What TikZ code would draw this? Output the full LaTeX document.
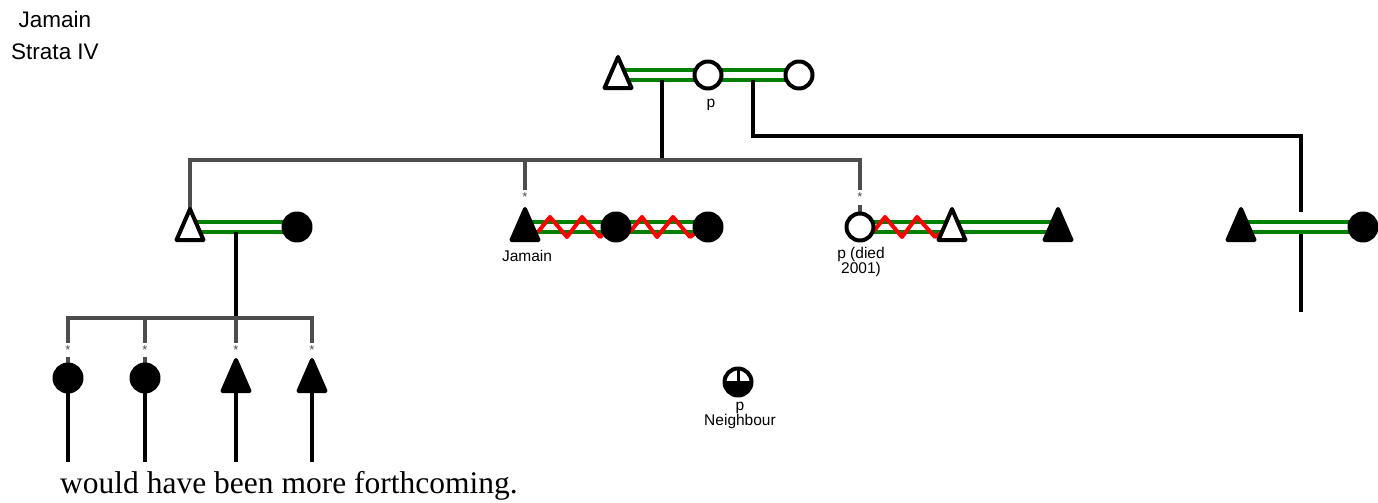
\documentclass[tikz,border=0pt]{standalone}
\usepackage{fontspec}
\setmainfont{Liberation Sans}
\newfontfamily\serifft{Liberation Serif}
\definecolor{grn}{RGB}{0,128,0}
\definecolor{lg}{RGB}{77,77,77}
\newcommand\pedtri[2]{\draw[symline, fill=#2] (#1) ++(0,-18) -- ++(13.5,31) -- ++(-27,0) -- cycle;}
\newcommand\pedcirc[2]{\draw[symline, fill=#2] (#1) circle[radius=13.5];}
\begin{document}
\begin{tikzpicture}[x=1pt,y=-1pt,
  symline/.style={line width=4pt, draw=black, line join=round},
  marr/.style={draw=grn, line width=4.3pt, double=white, double distance=5.5pt},
  zig/.style={draw=red, line width=4pt, line join=round},
  desc/.style={draw=black, line width=4pt},
  sib/.style={draw=lg, line width=4pt},
  lbl/.style={font=\fontsize{15.5}{15}\selectfont, inner sep=0pt},
  big/.style={font=\fontsize{22.5}{24}\selectfont, inner sep=0pt},
  star/.style={text=lg, font=\fontsize{13}{13}\selectfont, inner sep=0pt}]
\useasboundingbox (0,0) rectangle (1378,503);
% person positions
\coordinate (T0) at (618,75);
\coordinate (C0) at (708,75);
\coordinate (C0b) at (799,75);
\coordinate (T1) at (190,227);
\coordinate (C1) at (297,227);
\coordinate (J) at (525,227);
\coordinate (C2) at (616,227);
\coordinate (C3) at (708,227);
\coordinate (P) at (860,227);
\coordinate (T2) at (952,227);
\coordinate (T3) at (1058,227);
\coordinate (T4) at (1241,227);
\coordinate (C4) at (1363,227);
\coordinate (B1) at (68,378);
\coordinate (B2) at (145,378);
\coordinate (B3) at (236,378);
\coordinate (B4) at (312,378);
\coordinate (N) at (738,382);
% junctions
\coordinate (d0) at (662,80);
\coordinate (bar0) at (662,160);
\coordinate (d0b) at (753,80);
\coordinate (rc) at (1301,136);
\coordinate (rgapA) at (1301,212);
\coordinate (rgapB) at (1301,234);
\coordinate (rend) at (1301,312);
\coordinate (d1) at (236,232);
\coordinate (bar1) at (236,318);
% marriage lines
\draw[marr] (T0) -- (C0b);
\draw[marr] (T1) -- (C1);
\draw[marr] (J) -- (C3);
\draw[marr] (P) -- (T3);
\draw[marr] (T4) -- (C4);
% zigzags
\draw[zig] (538,232) -- (550,217) -- (567,237) -- (582,217) -- (600,237) -- (606,232);
\draw[zig] (630,232) -- (642,217) -- (657,237) -- (673,217) -- (690,237) -- (697,232);
\draw[zig] (873,232) -- (885,217) -- (902,237) -- (917,217) -- (935,237) -- (941,233);
% descent lines
\draw[desc] (d0) -- (bar0);
\draw[desc] (d0b) |- (rc) -- (rgapA);
\draw[desc] (rgapB) -- (rend);
\draw[desc] (d1) -- (bar1);
% sibling lines (middle)
\draw[sib] (190,209) -- (190,160) -- (860,160) -- (860,190);
\draw[sib] (525,160) -- (525,190);
\node[star] (s1) at (525,197) {*};
\node[star] (s2) at (860,197) {*};
\draw[sib] (860,205) -- (P);
% sibling lines (bottom)
\draw[sib] (68,343) -- (68,318) -- (312,318) -- (312,343);
\draw[sib] (145,318) -- (145,343);
\draw[sib] (236,318) -- (236,343);
\node[star] (s3) at (68,350) {*};
\node[star] (s4) at (145,350) {*};
\node[star] (s5) at (236,350) {*};
\node[star] (s6) at (312,350) {*};
\draw[sib] (68,357) -- (B1);
\draw[sib] (145,357) -- (B2);
% lines below bottom row
\draw[desc] (B1) -- (68,462);
\draw[desc] (B2) -- (145,462);
\draw[desc] (B3) -- (236,462);
\draw[desc] (B4) -- (312,462);
% symbols
\pedtri{T0}{white}
\pedcirc{C0}{white}
\pedcirc{C0b}{white}
\pedtri{T1}{white}
\pedcirc{C1}{black}
\pedtri{J}{black}
\pedcirc{C2}{black}
\pedcirc{C3}{black}
\pedcirc{P}{white}
\pedtri{T2}{white}
\pedtri{T3}{black}
\pedtri{T4}{black}
\pedcirc{C4}{black}
\pedcirc{B1}{black}
\pedcirc{B2}{black}
\pedtri{B3}{black}
\pedtri{B4}{black}
% neighbour symbol
\fill[white] (N) circle[radius=13.5];
\fill[black] (N) ++(-13.5,0) arc[start angle=180, end angle=0, radius=13.5] -- cycle;
\draw[line width=3pt] (N) ++(-13.5,0) -- ++(27,0);
\draw[line width=3pt] (N) -- ++(0,-13.5);
\draw[symline] (N) circle[radius=13.5];
% labels
\node[big] (tl1) at (55,19) {Jamain};
\node[big] (tl2) at (55,52) {Strata IV};
\node[lbl] (pTop) at (711,105) {p};
\node[lbl] (lJ) at (527,256) {Jamain};
\node[lbl, align=center] (lP) at (861,262) {p (died\\2001)};
\node[lbl, align=center] (lN) at (740,415) {p\\Neighbour};
\node[anchor=base west, inner sep=0pt, font=\serifft\fontsize{31.5}{32}\selectfont] (foot) at (60,493) {would have been more forthcoming.};
\end{tikzpicture}
\end{document}
